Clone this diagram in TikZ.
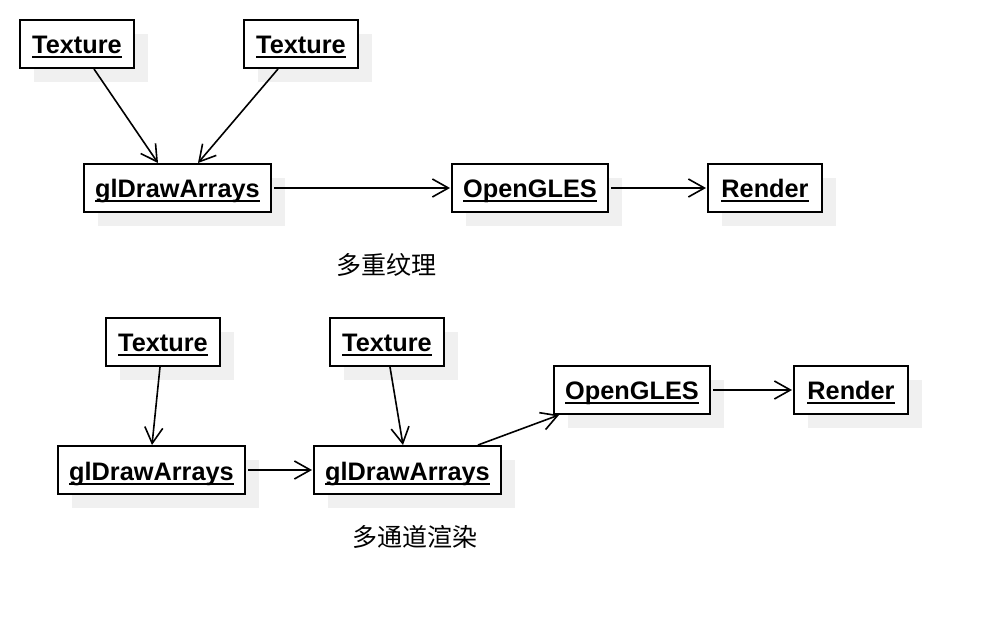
\documentclass[tikz,border=0pt]{standalone}
\usepackage{fontspec}
\setmainfont{Liberation Sans}
\newfontfamily\cjk{Noto Sans CJK SC}
\usepackage{tikz}
\usetikzlibrary{arrows.meta,positioning,shadows}
\definecolor{UMLshadow}{RGB}{240,240,240}
\newcommand{\ultext}[1]{\setbox0\hbox{#1}\rlap{\rule[-4.5pt]{\wd0}{2pt}}\box0}
\tikzstyle{Bobj} = [rectangle, draw, line width=2pt, fill=white,
                    minimum height=48pt, inner xsep=10pt, inner ysep=0pt,
                    text height=22pt, text depth=2pt,
                    font=\fontsize{25.3}{30}\selectfont\bfseries,
                    drop shadow={shadow xshift=14pt, shadow yshift=-14pt,
                                 fill=UMLshadow, opacity=1}]
\tikzstyle{Btex} = [Bobj, minimum width=114pt]
\tikzstyle{Bgl}  = [Bobj, minimum width=187pt]
\tikzstyle{Bgles}= [Bobj, minimum width=156pt]
\tikzstyle{Bcap} = [font=\fontsize{25}{30}\selectfont\cjk, inner sep=0pt]
\tikzstyle{Barr} = [line width=1.6pt,
                    -{Straight Barb[length=16pt,width=18pt,line width=1.6pt]}]

\begin{document}
\begin{tikzpicture}[x=1pt, y=-1pt]
  \useasboundingbox (0,0) rectangle (986,644);
  % multi texture
  \node[Btex] (tex1) at (77,44)  {\ultext{Texture}};
  \node[Btex] (tex2) at (301,44) {\ultext{Texture}};
  \node[Bgl]  (gl1)  at (177.5,188) {\ultext{glDrawArrays}};
  \node[Bgles, right=179pt of gl1] (gles1) {\ultext{OpenGLES}};
  \node[Btex, right=98pt of gles1] (rend1) {\ultext{Render}};
  \node[Bcap] (cap1) at (386,265) {多重纹理};
  \draw[Barr] ([xshift=17pt]tex1.south) -- ([xshift=-19.5pt]gl1.north);
  \draw[Barr] ([xshift=-23pt]tex2.south) -- ([xshift=20.5pt]gl1.north);
  \draw[Barr, shorten <=2pt, shorten >=1pt] (gl1) -- (gles1);
  \draw[Barr, shorten <=2pt, shorten >=1pt] (gles1) -- (rend1);
  % multi pass
  \node[Btex] (tex3) at (163,342) {\ultext{Texture}};
  \node[Btex] (tex4) at (387,342) {\ultext{Texture}};
  \node[Bgl]  (gl2)  at (151.5,470) {\ultext{glDrawArrays}};
  \node[Bgl, right=67pt of gl2]    (gl3)   {\ultext{glDrawArrays}};
  \node[Bgles] (gles2) at (632,390) {\ultext{OpenGLES}};
  \node[Btex, right=82pt of gles2] (rend2) {\ultext{Render}};
  \node[Bcap] (cap2) at (415,537) {多通道渲染};
  \draw[Barr] ([xshift=-3pt]tex3.south) -- ([xshift=0.5pt]gl2.north);
  \draw[Barr] ([xshift=3pt]tex4.south) -- ([xshift=-4.5pt]gl3.north);
  \draw[Barr, shorten <=2pt, shorten >=1pt] (gl2) -- (gl3);
  \draw[Barr] ([xshift=70.5pt]gl3.north) -- ([xshift=6pt]gles2.south west);
  \draw[Barr, shorten <=2pt, shorten >=1pt] (gles2) -- (rend2);
\end{tikzpicture}
\end{document}
